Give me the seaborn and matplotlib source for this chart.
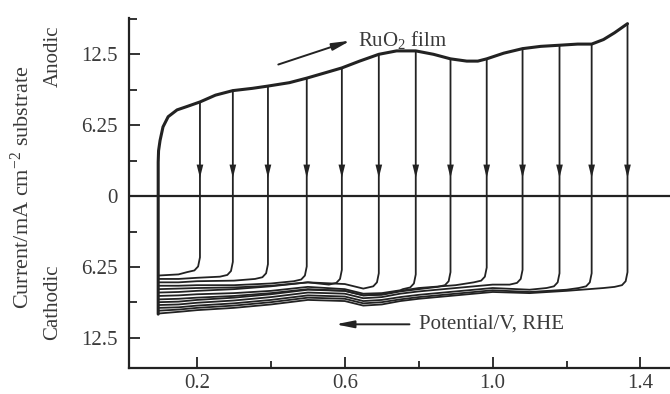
import numpy as np
import pandas as pd
import matplotlib
matplotlib.use("Agg")
import matplotlib.pyplot as plt
import seaborn as sns
from matplotlib.ticker import FixedLocator

# ---------------- data ----------------
anodic_E = [0.095, 0.095, 0.096, 0.100, 0.108, 0.122, 0.146, 0.173, 0.208, 0.25, 0.297,
            0.35, 0.392, 0.45, 0.497, 0.55, 0.592, 0.64, 0.692, 0.74, 0.792, 0.84,
            0.886, 0.93, 0.96, 0.984, 1.03, 1.081, 1.13, 1.181, 1.23, 1.268, 1.30,
            1.33, 1.365]
anodic_I = [-10.4, 3.0, 4.0, 4.9, 6.1, 7.0, 7.6, 7.9, 8.3, 8.9, 9.3,
            9.5, 9.7, 10.0, 10.4, 10.9, 11.3, 11.9, 12.5, 12.8, 12.8, 12.5,
            12.1, 11.9, 11.9, 12.1, 12.6, 13.0, 13.2, 13.3, 13.4, 13.4, 13.8,
            14.4, 15.2]

reversal_E = [0.208, 0.297, 0.392, 0.497, 0.592, 0.692, 0.792, 0.886, 0.984,
              1.081, 1.181, 1.268, 1.365]
reversal_I = [8.3, 9.3, 9.7, 10.4, 11.3, 12.5, 12.8, 12.1, 12.1, 13.0, 13.3, 13.4, 15.2]
turn_I = [-6.7, -7.1, -7.3, -7.5, -7.8, -8.1, -8.2, -8.0, -7.6, -7.8, -8.1, -8.1, -8.0]

cathodic_E = [0.095, 0.15, 0.20, 0.30, 0.40, 0.50, 0.60, 0.65, 0.70, 0.75, 0.80,
              0.90, 1.00, 1.10, 1.20, 1.30]
cathodic_I = [
    [-7.0, -6.9],
    [-7.3, -7.3, -7.2],
    [-7.6, -7.6, -7.5, -7.45],
    [-7.9, -7.9, -7.85, -7.85, -7.7],
    [-8.2, -8.15, -8.1, -8.05, -7.9, -7.6],
    [-8.5, -8.45, -8.35, -8.2, -7.95, -7.6, -7.75, -8.15],
    [-8.8, -8.75, -8.65, -8.55, -8.35, -8.0, -8.2, -8.6, -8.55, -8.3],
    [-9.1, -9.05, -8.95, -8.8, -8.55, -8.2, -8.35, -8.75, -8.7, -8.4, -8.2],
    [-9.35, -9.3, -9.15, -8.95, -8.65, -8.25, -8.35, -8.75, -8.65, -8.35, -8.1, -7.85],
    [-9.6, -9.55, -9.4, -9.2, -8.9, -8.5, -8.6, -9.0, -8.9, -8.6, -8.4, -8.1, -7.8],
    [-9.85, -9.8, -9.65, -9.45, -9.15, -8.75, -8.85, -9.25, -9.15, -8.9, -8.7, -8.4, -8.1, -8.25],
    [-10.1, -10.0, -9.85, -9.65, -9.35, -8.95, -9.05, -9.45, -9.35, -9.1, -8.9, -8.6, -8.3, -8.45, -8.25],
    [-10.35, -10.2, -10.05, -9.85, -9.55, -9.15, -9.25, -9.65, -9.55, -9.25, -9.05, -8.75, -8.45, -8.55, -8.35, -8.1],
]

yticks = [-12.5, -6.25, 0, 6.25, 12.5]
ytick_labels = ["12.5", "6.25", "0", "6.25", "12.5"]
yminor = [-15.625, -9.375, -3.125, 3.125, 9.375, 15.625]
xticks = [0.2, 0.6, 1.0, 1.4]
xtick_labels = ["0.2", "0.6", "1.0", "1.4"]
xminor = [0.4, 0.8, 1.2]

# ---------------- build curves ----------------
rows = []
for k, (er, ir, ti, cvals) in enumerate(zip(reversal_E, reversal_I, turn_I, cathodic_I)):
    pts = [(er, ir), (er, ti + 1.3), (er - 0.005, ti + 0.5),
           (er - 0.015, ti + 0.15), (er - 0.035, ti)]
    grid = cathodic_E[:len(cvals)]
    for e, i in sorted(zip(grid, cvals), reverse=True):
        pts.append((e, i))
    for n, (e, i) in enumerate(pts):
        rows.append({"curve": k, "order": n, "E": e, "I": i})
df = pd.DataFrame(rows)
env = pd.DataFrame({"E": anodic_E, "I": anodic_I, "order": range(len(anodic_E))})

# ---------------- style ----------------
sns.set_theme(style="ticks")
plt.rcParams["font.family"] = ["Liberation Serif", "DejaVu Serif"]
plt.rcParams["mathtext.fontset"] = "custom"
plt.rcParams["mathtext.rm"] = "Liberation Serif"
plt.rcParams["mathtext.it"] = "Liberation Serif:italic"

ink = "#222222"
txt = "#3a3a3a"
fs = 15

fig = plt.figure(figsize=(6.7, 3.94), dpi=100)
ax = fig.add_axes([129 / 670, 26 / 394, 541 / 670, 350 / 394])

sns.lineplot(data=df, x="E", y="I", units="curve", estimator=None, sort=False,
             color=ink, lw=1.3, ax=ax)
sns.lineplot(data=env, x="E", y="I", estimator=None, sort=False,
             color=ink, lw=2.2, ax=ax)

ax.axhline(0, color=ink, lw=1.6, zorder=1)

for er in reversal_E:
    ax.annotate("", xy=(er, 1.6), xytext=(er, 3.4),
                arrowprops=dict(arrowstyle="-|>,head_length=0.8,head_width=0.2",
                                color=ink, lw=0.01, shrinkA=0, shrinkB=0))

ax.set_xlim(0.016, 1.48)
ax.set_ylim(-15.15, 15.7)
ax.set_xlabel("")
ax.set_ylabel("")

ax.xaxis.set_major_locator(FixedLocator(xticks))
ax.set_xticklabels(xtick_labels)
ax.xaxis.set_minor_locator(FixedLocator(xminor))
ax.yaxis.set_major_locator(FixedLocator(yticks))
ax.set_yticklabels(ytick_labels)
ax.yaxis.set_minor_locator(FixedLocator(yminor))

ax.tick_params(axis="both", which="both", direction="in", color=ink, width=1.3,
               labelsize=fs, labelcolor=txt)
ax.tick_params(axis="x", which="major", length=8, pad=4)
ax.tick_params(axis="x", which="minor", length=5)
ax.tick_params(axis="y", which="major", length=8, pad=8)
ax.tick_params(axis="y", which="minor", length=6)

sns.despine(ax=ax)
for s in ("left", "bottom"):
    ax.spines[s].set_linewidth(1.6)
    ax.spines[s].set_color(ink)

# annotations
ax.text(0.635, 13.8, r"RuO$_2$ film", fontsize=fs, color=txt, ha="left", va="center")
ax.annotate("", xy=(0.615, 13.7), xytext=(0.42, 11.6),
            arrowprops=dict(arrowstyle="-|>,head_length=0.9,head_width=0.18",
                            color=ink, lw=1.4, shrinkA=0, shrinkB=0))
ax.text(0.80, -11.3, "Potential/V, RHE", fontsize=fs, color=txt, ha="left", va="center")
ax.annotate("", xy=(0.575, -11.3), xytext=(0.775, -11.3),
            arrowprops=dict(arrowstyle="-|>,head_length=0.9,head_width=0.18",
                            color=ink, lw=1.4, shrinkA=0, shrinkB=0))

fig.text(22 / 670, 1 - 187 / 394, r"Current/mA cm$^{-2}$ substrate", rotation=90,
         fontsize=16, color=txt, ha="center", va="center")
fig.text(53 / 670, 1 - 56 / 394, "Anodic", rotation=90, fontsize=fs, color=txt,
         ha="center", va="center")
fig.text(53 / 670, 1 - 302 / 394, "Cathodic", rotation=90, fontsize=fs, color=txt,
         ha="center", va="center")

fig.savefig("out.png", dpi=100)
